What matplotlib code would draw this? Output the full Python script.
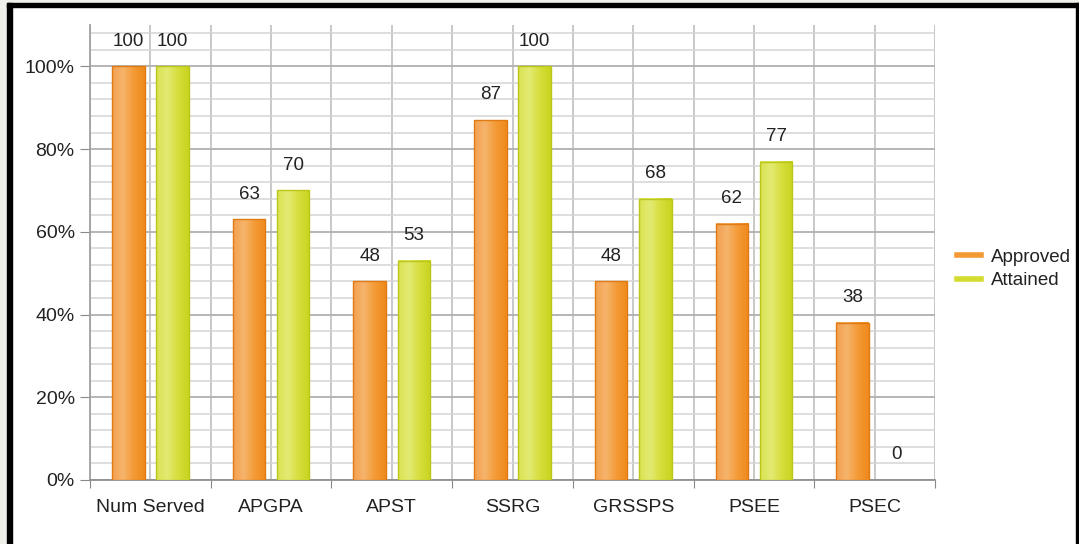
import numpy as np
import matplotlib
matplotlib.use('Agg')
from matplotlib import pyplot as plt
from matplotlib.colors import LinearSegmentedColormap
from matplotlib.patches import Rectangle
from matplotlib.lines import Line2D
from matplotlib.ticker import MultipleLocator, FuncFormatter

categories = ['Num Served', 'APGPA', 'APST', 'SSRG', 'GRSSPS', 'PSEE', 'PSEC']
approved = [100, 63, 48, 87, 48, 62, 38]
attained = [100, 70, 53, 100, 68, 77, 0]
series_names = ['Approved', 'Attained']

plt.rcParams['font.family'] = ['Liberation Sans', 'DejaVu Sans']

fig = plt.figure(figsize=(10.79, 5.44), dpi=100)
ax = fig.add_axes([90 / 1079, 64 / 544, 845 / 1079, 455 / 544])

# gradient colour maps (light left -> darker right)
cm_orange = LinearSegmentedColormap.from_list('o', ['#F3A050', '#F6B46C', '#F39A35', '#EF8A1C'])
cm_green = LinearSegmentedColormap.from_list('g', ['#D9E250', '#E3EA74', '#D6DE3C', '#C9D41E'])
grad = np.linspace(0, 1, 64).reshape(1, -1)

x = np.arange(len(categories))
w = 0.27
off = 0.183

def draw_bars(xs, vals, cmap, edge):
    for xi, v in zip(xs, vals):
        if v <= 0:
            continue
        ax.imshow(grad, cmap=cmap, extent=(xi - w / 2, xi + w / 2, 0, v),
                  aspect='auto', zorder=3, interpolation='bilinear')
        ax.add_patch(Rectangle((xi - w / 2, 0), w, v, fill=False,
                               edgecolor=edge, lw=1.0, zorder=4))

draw_bars(x - off, approved, cm_orange, '#E07A12')
draw_bars(x + off, attained, cm_green, '#BCC61A')

for xi, v in zip(x - off, approved):
    ax.annotate(str(v), (xi, v), xytext=(0, 12), textcoords='offset points',
                ha='center', va='bottom', fontsize=13.5, color='#222222')
for xi, v in zip(x + off, attained):
    ax.annotate(str(v), (xi, v), xytext=(0, 12), textcoords='offset points',
                ha='center', va='bottom', fontsize=13.5, color='#222222')

ax.set_xlim(-0.5, len(categories) - 0.5)
ax.set_ylim(0, 110)

# y axis
ax.set_yticks([0, 20, 40, 60, 80, 100])
ax.yaxis.set_major_formatter(FuncFormatter(lambda v, p: '%d%%' % v))
ax.yaxis.set_minor_locator(MultipleLocator(4))
ax.tick_params(axis='y', which='major', length=7, color='#888888', pad=4,
               labelsize=14, labelcolor='#222222')
ax.tick_params(axis='y', which='minor', length=0)

# x axis: boundaries as major ticks, centres as minor (labelled)
ax.set_xticks(np.arange(len(categories) + 1) - 0.5)
ax.set_xticklabels([])
ax.set_xticks(x, minor=True)
ax.set_xticklabels(categories, minor=True)
ax.tick_params(axis='x', which='major', length=6, color='#888888')
ax.tick_params(axis='x', which='minor', length=0, pad=14, labelsize=14,
               labelcolor='#222222')

ax.grid(axis='y', which='major', color='#B0B0B0', lw=1.3, zorder=0)
ax.grid(axis='y', which='minor', color='#D4D4D4', lw=1.1, zorder=0)
ax.grid(axis='x', which='both', color='#C4C4C4', lw=1.3, zorder=0)

for s in ['top', 'right']:
    ax.spines[s].set_visible(False)
ax.spines['left'].set_color('#A0A0A0')
ax.spines['bottom'].set_color('#909090')
ax.spines['left'].set_linewidth(1.3)
ax.spines['bottom'].set_linewidth(1.3)
ax.axvline(len(categories) - 0.5, color='#C4C4C4', lw=1.3, zorder=0)

handles = [Line2D([0], [0], color='#F39A35', lw=4),
           Line2D([0], [0], color='#D4DC30', lw=4)]
fig.legend(handles, series_names, loc='center left',
           bbox_to_anchor=(944 / 1079, (544 - 269) / 544), frameon=False,
           fontsize=13.5, handlelength=1.25, handletextpad=0.55, labelspacing=0.35,
           labelcolor='#222222', borderpad=0.2)

# outer frame
fig.patches.append(Rectangle((0, 0), 7 / 1079, 1, transform=fig.transFigure,
                             color='#F0F0EB', zorder=10))
fig.patches.append(Rectangle((0, 541 / 544), 1, 3 / 544, transform=fig.transFigure,
                             color='#F0F0EB', zorder=10))
fig.patches.append(Rectangle((7 / 1079, 0), 5 / 1079, 541 / 544, transform=fig.transFigure,
                             color='black', zorder=11))
fig.patches.append(Rectangle((7 / 1079, 537 / 544), 1, 4 / 544, transform=fig.transFigure,
                             color='black', zorder=11))
fig.patches.append(Rectangle((1076 / 1079, 0), 3 / 1079, 541 / 544, transform=fig.transFigure,
                             color='black', zorder=11))

fig.savefig('out.png', dpi=100)
